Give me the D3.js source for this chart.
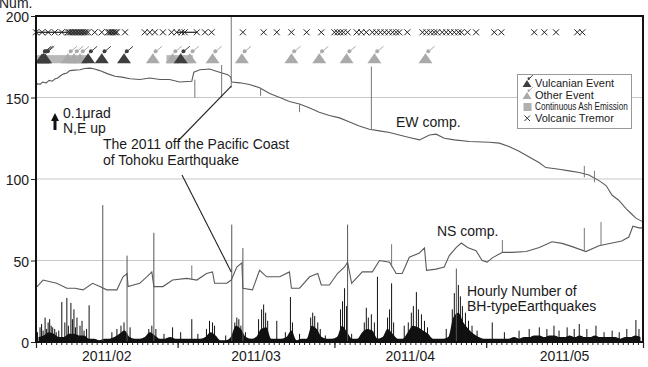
<!DOCTYPE html>
<html>
<head>
<meta charset="utf-8">
<script src="https://cdn.jsdelivr.net/npm/d3@7"></script>
<style>
body { margin: 0; background: #fff; }
svg text { font-family: "Liberation Sans", Arial, sans-serif; fill: #1a1a1a; }
</style>
</head>
<body>
<div id="chart"></div>
<script>
// all times are days counted from 2011/02/01 00:00

// tilt traces (plotted in the same 0-200 frame)
const ewTilt = [[0,157.5],[0.4,158.5],[0.8,158],[1.3,159.5],[2.0,159],[2.6,160.5],[3.2,160],[3.8,161.5],[4.3,162],[4.9,163.5],[5.5,164.5],[6.1,165],[6.7,166.5],[7.6,166.8],[8.7,167],[9.6,167.8],[10.7,168],[11.6,167.5],[12.6,166.5],[14.2,164.5],[15.6,163],[17.0,162.5],[18.6,161.5],[20.5,161],[22.5,162],[24.5,161],[26.4,161],[28.4,159.5],[30.8,160],[31.2,165.5],[32.4,167],[34.3,167.5],[36.3,165.5],[37.9,164],[38.5,162.5],[38.7,159.5],[40.3,159],[42.2,158],[44.2,156],[46.2,152.5],[48.2,150],[50.1,147.5],[52.1,146],[54.1,143.5],[56.0,141],[58.0,139],[60.0,137.5],[62.0,135],[63.9,132.5],[65.9,130.5],[67.9,129.5],[69.9,128.5],[71.8,127],[73.8,125.5],[75.8,124],[77.8,127],[79.1,127.5],[80.7,125],[82.7,124],[85.7,123],[89.6,122.5],[91.6,122],[93.5,120],[95.5,117],[97.5,113.5],[99.5,110],[100.8,107],[103.4,106],[105.4,105],[107.4,104],[109.3,102.5],[111.3,99],[112.7,96],[113.9,90],[115.2,87],[116.6,82],[117.6,79],[118.6,76],[119.8,74]];
const nsTilt = [[0.2,34],[1.4,38],[2.8,37],[4.1,36],[6.1,33],[7.7,33],[9.3,32],[11.2,36],[12.6,34],[14.0,32],[16.0,32],[17.2,40],[18.0,42],[18.2,34],[20.5,36],[21.9,40],[22.9,43],[23.3,34],[25.1,34],[27.0,38],[29.8,39],[31.8,38],[33.7,42],[34.9,43],[35.3,36],[37.7,36],[38.6,38],[39.7,46],[40.7,48.5],[40.9,33],[42.8,32],[44.2,44],[45.6,40],[48.2,40],[50.1,43],[50.5,33],[52.1,33],[54.1,40],[55.7,42],[56.4,35],[58.0,35],[59.6,42],[61.0,46],[61.6,49],[62.4,36],[64.5,43],[66.5,43],[67.9,50],[69.9,49],[71.2,42],[72.4,42],[73.8,52],[75.8,54.6],[76.8,57.7],[77.2,44],[79.1,44.7],[80.7,46],[81.7,53],[83.1,58],[84.1,60.7],[85.3,58],[87.0,56],[88.2,50],[89.2,49],[90.2,51.6],[92.2,55],[94.1,55],[96.9,55.5],[99.5,58],[102.0,61.5],[104.0,60.5],[106.0,58.5],[108.7,55.5],[111.3,59],[113.9,60.7],[115.8,62],[117.2,64.4],[118.0,71],[119.2,70],[119.8,70]];

// short steps on the traces: [day, low, high]
const ewSpikes = [[31.4,150,161],[36.7,150,170],[38.6,156,200],[44.4,151,156],[52.1,141,146],[66.3,130,169],[108.4,101,108],[110.4,98,105]];
const nsSpikes = [[30.8,38,47],[70.3,46,60],[92.2,55,62.6],[108.4,56,70],[111.7,59,73.6]];

// hourly number of BH-type earthquakes: daily background level and single peaks
const bhBase = [3,4,6,5,3,3,5,5,4,4,2,2,1,2,2,3,5,7,3,2,2,3,6,4,2,2,3,2,2,2,2,2,2,3,6,4,1,1,3,10,8,3,2,3,8,9,2,2,2,3,7,1,2,2,10,8,3,2,2,3,10,6,2,2,6,8,7,2,3,8,5,2,2,6,10,9,7,5,2,2,2,3,15,18,12,8,5,3,2,2,2,2,2,2,3,2,3,3,4,4,3,4,4,3,3,4,3,4,3,3,4,3,3,3,3,2,3,3,4,3];
const bhPeaks = [[0.3,6],[0.8,9],[1.1,11],[1.4,7],[1.8,15],[2.1,8],[2.4,12],[2.7,14],[3.0,10],[3.3,9],[3.7,8],[4.0,6],[4.5,7],[5.1,24.5],[5.7,12],[6.1,27],[6.4,10],[6.9,24],[7.2,14],[7.5,20],[7.8,9],[8.1,15],[8.7,10],[9.1,13],[9.5,7],[10.0,8],[10.5,22.5],[13.2,84],[15.0,6],[16.0,8],[16.8,10],[17.4,12],[18.0,53],[18.6,9],[22.3,8],[22.9,10],[23.3,67],[23.7,8],[25.3,5],[27.0,9],[28.6,6],[30.8,14],[32.0,5],[33.7,8],[34.3,13],[34.9,12],[35.3,10],[37.5,4],[38.7,72],[39.3,12],[39.7,15],[40.1,14],[40.5,10],[40.9,57.6],[41.4,6],[44.0,14],[44.6,20],[45.0,23],[45.4,18],[45.8,13],[47.6,13],[49.3,6],[50.3,27.6],[50.7,12],[52.1,5],[54.3,15],[54.7,18],[55.1,16],[55.7,12],[56.2,8],[57.2,4],[60.2,20],[60.6,25],[61.0,33],[61.4,22],[61.6,72],[62.4,5],[64.9,12],[65.3,21],[65.7,15],[66.3,17],[66.9,12],[67.5,40],[69.5,15],[69.9,20],[70.3,36],[70.7,12],[72.8,10],[73.6,12],[74.2,18],[74.6,22],[75.2,30.6],[75.6,20],[76.2,17],[76.8,13],[77.4,9],[81.1,8],[82.3,20],[82.7,30],[83.1,45],[83.5,35],[83.9,28],[84.3,22],[84.9,18],[85.5,13],[86.2,10],[87.2,7],[90.2,12],[92.6,6],[95.5,7],[97.5,8],[99.5,9],[101.0,8],[102.4,10],[103.4,7],[105.0,9],[106.4,8],[107.4,11],[108.9,8],[110.7,10],[112.3,6],[113.9,7],[115.3,6],[116.8,8],[118.6,13.5],[119.2,8]];

// events
const vulcanianDays = [1.2,1.5,1.8,10.3,13.0,17.4,28.6];
const otherEventDays = [6.3,7.5,8.7,23.1,27.0,30.4,34.9,40.7,50.5,56.0,61.4,66.9,77.0];
const ashEmission = [[0,10.3],[25.8,31.0]];
const tremorDays = [0.0,1.2,2.4,3.7,5.1,6.3,6.6,6.9,7.2,7.5,7.8,8.1,8.4,8.7,9.0,9.3,9.6,9.9,10.3,11.6,13.0,14.2,14.5,14.8,15.1,15.4,15.7,16.0,17.6,21.5,22.5,23.5,25.1,26.8,27.8,28.8,29.4,31.8,33.4,34.7,40.9,45.0,47.6,50.5,53.5,56.4,59.0,59.6,60.2,60.8,61.6,63.4,64.3,65.3,66.5,67.3,68.1,68.9,69.7,70.5,71.2,71.8,73.4,76.4,77.2,78.0,78.7,79.3,80.3,81.1,81.9,82.7,83.5,84.1,85.3,87.0,90.6,92.0,98.5,100.5,102.8,107.0,108.0];
const tremorContinuous = [[0,6.3],[27.8,31.8]];
const quakeDay = 38.6;

const monthLabels = ["2011/02","2011/03","2011/04","2011/05"];
const yTicks = [0,50,100,150,200];

const width = 648, height = 367;
const t0 = new Date(2011, 1, 1);
const toDate = d => new Date(t0.getTime() + d * 864e5);

const x = d3.scaleTime().domain([t0, new Date(2011, 5, 1)]).range([36, 643]);
const y = d3.scaleLinear().domain([0, 200]).range([342, 16]);
const xd = d => x(toDate(d));

const svg = d3.select("#chart").append("svg")
  .attr("width", width).attr("height", height);

// grid
svg.append("g").selectAll("line").data([50,100,150]).enter().append("line")
  .attr("x1", 36).attr("x2", 643)
  .attr("y1", d => y(d)).attr("y2", d => y(d))
  .attr("stroke", "#c8c8c8").attr("stroke-width", 1);

// BH-type earthquakes
svg.append("path")
  .datum(bhBase)
  .attr("fill", "#111")
  .attr("d", d3.area()
    .x((d, i) => xd(i + 0.5))
    .y0(y(0))
    .y1(d => y(d))
    .curve(d3.curveMonotoneX));
svg.append("g").selectAll("line").data(bhPeaks).enter().append("line")
  .attr("x1", d => xd(d[0])).attr("x2", d => xd(d[0]))
  .attr("y1", y(0)).attr("y2", d => y(d[1]))
  .attr("stroke", d => d[1] > 40 ? "#555" : "#111")
  .attr("stroke-width", 1);

// tilt traces
const line = d3.line().x(d => xd(d[0])).y(d => y(d[1]));
[ewTilt, nsTilt].forEach(s => {
  svg.append("path").datum(s)
    .attr("fill", "none").attr("stroke", "#5a5a5a").attr("stroke-width", 1.1)
    .attr("d", line);
});
svg.append("g").selectAll("line").data(ewSpikes.concat(nsSpikes)).enter().append("line")
  .attr("x1", d => xd(d[0])).attr("x2", d => xd(d[0]))
  .attr("y1", d => y(d[1])).attr("y2", d => y(d[2]))
  .attr("stroke", "#777").attr("stroke-width", 1);

// continuous ash emission
svg.append("g").selectAll("rect").data(ashEmission).enter().append("rect")
  .attr("x", d => xd(d[0])).attr("width", d => xd(d[1]) - xd(d[0]))
  .attr("y", y(176)).attr("height", y(171) - y(176))
  .attr("fill", "#b8b8b8");

// eruption icons
function eventIcon(g, cx, baseY, w, h, fill) {
  g.append("path")
    .attr("d", `M${cx - w / 2},${baseY}L${cx},${baseY - h}L${cx + w / 2},${baseY}Z`)
    .attr("fill", fill);
  g.append("path")
    .attr("d", `M${cx + 1},${baseY - h}L${cx + w * 0.65},${baseY - h * 1.7}`)
    .attr("stroke", fill).attr("stroke-width", 1).attr("fill", "none");
  g.append("circle").attr("cx", cx + w * 0.2).attr("cy", baseY - h * 1.2).attr("r", w * 0.14).attr("fill", fill);
}
const events = svg.append("g");
otherEventDays.forEach(d => eventIcon(events, xd(d), y(171), 14, 10, "#aaaaaa"));
vulcanianDays.forEach(d => eventIcon(events, xd(d), y(171), 14, 10, "#3e3e3e"));

// volcanic tremor
svg.append("g").selectAll("line").data(tremorContinuous).enter().append("line")
  .attr("x1", d => xd(d[0])).attr("x2", d => xd(d[1]))
  .attr("y1", y(190)).attr("y2", y(190))
  .attr("stroke", "#222").attr("stroke-width", 1.2);
svg.append("g").selectAll("path").data(tremorDays).enter().append("path")
  .attr("d", d => { const cx = xd(d), cy = y(190); return `M${cx-3},${cy-3}L${cx+3},${cy+3}M${cx-3},${cy+3}L${cx+3},${cy-3}`; })
  .attr("stroke", "#222").attr("stroke-width", 1);

// axes
const yAxis = svg.append("g").attr("transform", "translate(36,0)")
  .call(d3.axisLeft(y).tickValues(yTicks).tickSize(5).tickPadding(2));
yAxis.select(".domain").remove();
yAxis.selectAll("text").attr("font-size", 14).attr("fill", "#1a1a1a").attr("dy", "0.42em")
  .attr("font-family", "Liberation Sans, Arial, sans-serif");
yAxis.selectAll("line").attr("stroke", "#222");

const xMinor = svg.append("g").attr("transform", "translate(0,342)")
  .call(d3.axisBottom(x).ticks(d3.timeDay).tickSize(3).tickFormat(""));
xMinor.select(".domain").remove();
xMinor.selectAll("line").attr("stroke", "#222");
const xMajor = svg.append("g").attr("transform", "translate(0,342)")
  .call(d3.axisBottom(x).ticks(d3.timeMonth).tickSize(6).tickFormat(""));
xMajor.select(".domain").remove();
xMajor.selectAll("line").attr("stroke", "#222").attr("stroke-width", 1.2);

const months = d3.timeMonth.range(t0, new Date(2011, 5, 1));
svg.append("g").selectAll("text").data(months).enter().append("text")
  .attr("x", d => (x(d) + x(d3.timeMonth.offset(d, 1))) / 2)
  .attr("y", 361)
  .attr("text-anchor", "middle").attr("font-size", 14)
  .text((d, i) => monthLabels[i]);

// frame
svg.append("path")
  .attr("d", "M36,16H643V342H36Z")
  .attr("fill", "none").attr("stroke", "#111").attr("stroke-width", 2);

// texts
svg.append("text").attr("x", -1).attr("y", 8).attr("font-size", 14).text("Num.");

svg.append("path").attr("d", "M51,121L55,113L59,121H56.5V130H53.5V121Z").attr("fill", "#111");
svg.append("text").attr("x", 63).attr("y", 118).attr("font-size", 14).text("0.1μrad");
svg.append("text").attr("x", 63).attr("y", 133).attr("font-size", 14).text("N,E up");

svg.append("text").attr("x", 103).attr("y", 149).attr("font-size", 14).text("The 2011 off the Pacific Coast");
svg.append("text").attr("x", 103).attr("y", 165).attr("font-size", 14).text("of Tohoku Earthquake");
svg.append("line").attr("x1", 178).attr("y1", 141).attr("x2", xd(quakeDay)).attr("y2", y(157))
  .attr("stroke", "#222").attr("stroke-width", 1.1);
svg.append("line").attr("x1", 182).attr("y1", 175).attr("x2", xd(quakeDay)).attr("y2", y(43))
  .attr("stroke", "#222").attr("stroke-width", 1.1);

svg.append("text").attr("x", 396).attr("y", 127).attr("font-size", 14).text("EW comp.");
svg.append("text").attr("x", 437).attr("y", 236).attr("font-size", 14).text("NS comp.");
svg.append("text").attr("x", 467).attr("y", 296).attr("font-size", 14).text("Hourly Number of");
svg.append("text").attr("x", 467).attr("y", 311).attr("font-size", 14).text("BH-typeEarthquakes");

// legend
const lg = svg.append("g");
lg.append("rect").attr("x", 517.5).attr("y", 74.5).attr("width", 114).attr("height", 54)
  .attr("fill", "#fff").attr("stroke", "#999");
eventIcon(lg, 527, 87, 9, 7, "#3e3e3e");
eventIcon(lg, 527, 99, 9, 7, "#aaaaaa");
lg.append("rect").attr("x", 523.5).attr("y", 103).attr("width", 8).attr("height", 8).attr("fill", "#b0b0b0");
lg.append("path").attr("d", "M524.5,115.5L530,121M524.5,121L530,115.5").attr("stroke", "#333");
lg.append("text").attr("x", 535).attr("y", 87).attr("font-size", 11).text("Vulcanian Event");
lg.append("text").attr("x", 535).attr("y", 99).attr("font-size", 11).text("Other Event");
lg.append("text").attr("transform", "translate(535,110) scale(0.78,1)").attr("font-size", 10.5)
  .text("Continuous Ash Emission");
lg.append("text").attr("x", 535).attr("y", 122).attr("font-size", 11).text("Volcanic Tremor");
</script>
</body>
</html>
